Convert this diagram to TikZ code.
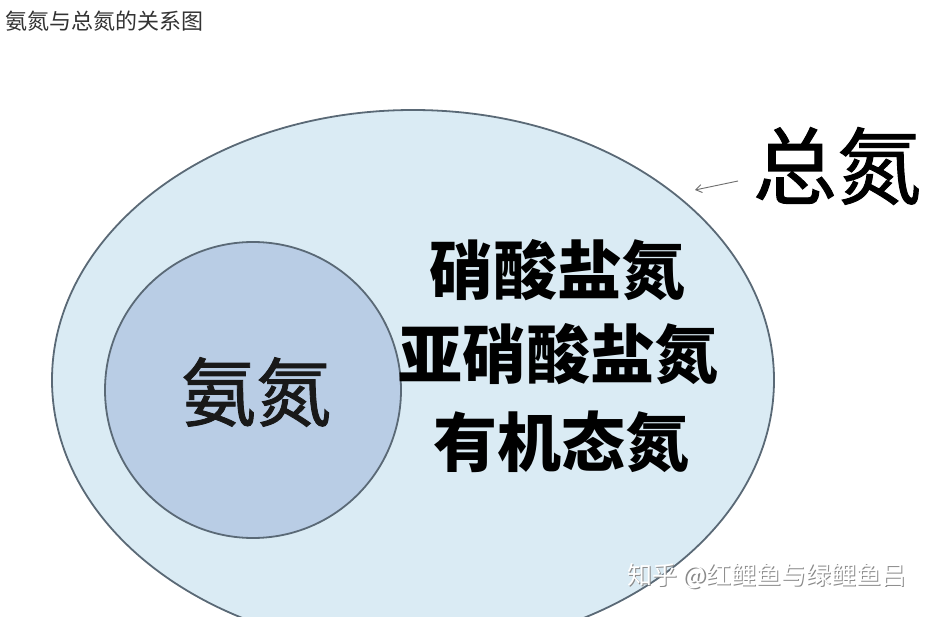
\documentclass[tikz,border=0pt]{standalone}
\usepackage{fontspec}
\newfontfamily\cjk{Noto Sans CJK SC}
\newfontfamily\cjkmed[FakeBold=1.2]{Noto Sans CJK SC}
\usetikzlibrary{shapes.geometric,arrows.meta}
\definecolor{outerfill}{HTML}{DAEBF4}
\definecolor{innerfill}{HTML}{B9CDE5}
\definecolor{edgecol}{HTML}{5A6976}
\definecolor{titlecol}{HTML}{333333}
\definecolor{arrowcol}{HTML}{6E6E6E}
\definecolor{wmshadow}{HTML}{8A8A8A}
\begin{document}
\begin{tikzpicture}[x=1pt,y=-1pt,
  titletext/.style={inner sep=0pt, text=titlecol, font=\cjk\fontsize{22}{22}\selectfont},
  setshape/.style={draw=edgecol, line width=1.8pt, inner sep=0pt},
  bigtext/.style={inner sep=0pt, text=black, font=\cjk\bfseries\fontsize{64}{64}\selectfont},
  innertext/.style={inner sep=0pt, text=black!90, font=\cjkmed\fontsize{75}{75}\selectfont},
  totaltext/.style={inner sep=0pt, text=black, font=\cjkmed\fontsize{84}{84}\selectfont},
  wmtext/.style={inner sep=0pt, font=\cjk\fontsize{25}{25}\selectfont},
  pointer/.style={draw=arrowcol, line width=0.9pt, -{Straight Barb[length=6pt,width=8pt]}}
]
\useasboundingbox (0,0) rectangle (947,617);
\clip (0,0) rectangle (947,617);
\fill[white] (0,0) rectangle (947,617);

\node[titletext, anchor=west] (title) at (5,21) {氨氮与总氮的关系图};

\node[setshape, ellipse, fill=outerfill, minimum width=722pt, minimum height=540pt] (total) at (413,380) {};
\node[setshape, circle, fill=innerfill, minimum size=296pt] (ammonia) at (253,390) {};

\node[innertext] (ammonialabel) at (256,392) {氨氮};

\node[bigtext] (nitrate) at (557,270) {硝酸盐氮};
\node[bigtext] (nitrite) at (558,354) {亚硝酸盐氮};
\node[bigtext] (organic) at (561,442) {有机态氮};

\node[totaltext] (totallabel) at (837,166) {总氮};
\coordinate (ptail) at (738,181);
\coordinate (phead) at (695,190);
\draw[pointer] (ptail) -- (phead);

\node[wmtext, text=wmshadow] (wmshade) at (768.3,577.3) {知乎 @红鲤鱼与绿鲤鱼吕};
\node[wmtext, text=white] (wm) at (767,576) {知乎 @红鲤鱼与绿鲤鱼吕};
\end{tikzpicture}
\end{document}
